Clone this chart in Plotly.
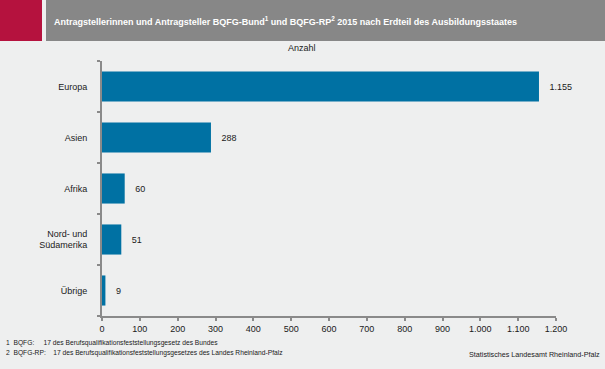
import plotly.graph_objects as go

categories = ["Europa", "Asien", "Afrika", "Nord- und<br>Südamerika", "Übrige"]
values = [1155, 288, 60, 51, 9]
x_ticks = [0, 100, 200, 300, 400, 500, 600, 700, 800, 900, 1000, 1100, 1200]

W, H = 605, 369
L, R, T, B = 102, 49, 61, 53
pw, ph = W - L - R, H - T - B

def px(x):
    return (x - L) / pw

def py(y):
    return (H - B - y) / ph

fig = go.Figure(go.Bar(
    x=values, y=categories, orientation="h",
    marker=dict(color="#0071a3", line=dict(width=0)),
    width=0.59,
    text=values, texttemplate="   %{x:,d}", textposition="outside",
    textfont=dict(family="Liberation Sans, Arial", size=9, color="#1a1a1a"),
    cliponaxis=False,
))

gray = "#8a8a8a"
fig.update_layout(
    width=W, height=H,
    margin=dict(l=L, r=R, t=T, b=B),
    paper_bgcolor="#eeefef", plot_bgcolor="#eeefef",
    separators=",.",
    showlegend=False,
    font=dict(family="Liberation Sans, Arial", size=9, color="#1a1a1a"),
    xaxis=dict(range=[0, 1200], tickvals=x_ticks, tickformat=",d",
               showgrid=False, zeroline=False, showline=True, linecolor=gray, linewidth=2,
               ticks="outside", ticklen=3, tickcolor=gray, tickwidth=1.5,
               tickfont=dict(size=9)),
    yaxis=dict(categoryorder="array", categoryarray=categories[::-1],
               showgrid=False, zeroline=False, showline=True, linecolor=gray, linewidth=2,
               ticks="outside", tickson="boundaries", ticklen=3, tickcolor=gray, tickwidth=1.5,
               ticklabelstandoff=11, tickfont=dict(size=9)),
    shapes=[
        dict(type="rect", xref="paper", yref="paper", x0=px(0), x1=px(42), y0=py(41), y1=py(0),
             fillcolor="#b5123e", line=dict(width=0), layer="above"),
        dict(type="rect", xref="paper", yref="paper", x0=px(46), x1=px(605), y0=py(41), y1=py(0),
             fillcolor="#878787", line=dict(width=0), layer="above"),
    ],
    annotations=[
        dict(text="<b>Antragstellerinnen und Antragsteller BQFG-Bund<sup>1</sup> und BQFG-RP<sup>2</sup> 2015 nach Erdteil des Ausbildungsstaates</b>",
             xref="paper", yref="paper", x=px(52), y=py(21), xanchor="left", yanchor="middle",
             showarrow=False, font=dict(size=9, color="white")),
        dict(text="Anzahl", xref="paper", yref="paper", x=px(302), y=py(48),
             xanchor="center", yanchor="middle", showarrow=False, font=dict(size=9)),
        dict(text="1  BQFG:     17 des Berufsqualifikationsfeststellungsgesetz des Bundes",
             xref="paper", yref="paper", x=px(4), y=py(343), xanchor="left", yanchor="middle",
             showarrow=False, font=dict(size=6.7)),
        dict(text="2  BQFG-RP:    17 des Berufsqualifikationsfeststellungsgesetzes des Landes Rheinland-Pfalz",
             xref="paper", yref="paper", x=px(4), y=py(353), xanchor="left", yanchor="middle",
             showarrow=False, font=dict(size=6.7)),
        dict(text="Statistisches Landesamt Rheinland-Pfalz",
             xref="paper", yref="paper", x=px(602), y=py(354), xanchor="right", yanchor="middle",
             showarrow=False, font=dict(size=7.2)),
    ],
)

fig.write_html("out.html", config={"displayModeBar": False},
               post_script="document.body.style.margin='0';document.body.style.overflow='hidden';")
